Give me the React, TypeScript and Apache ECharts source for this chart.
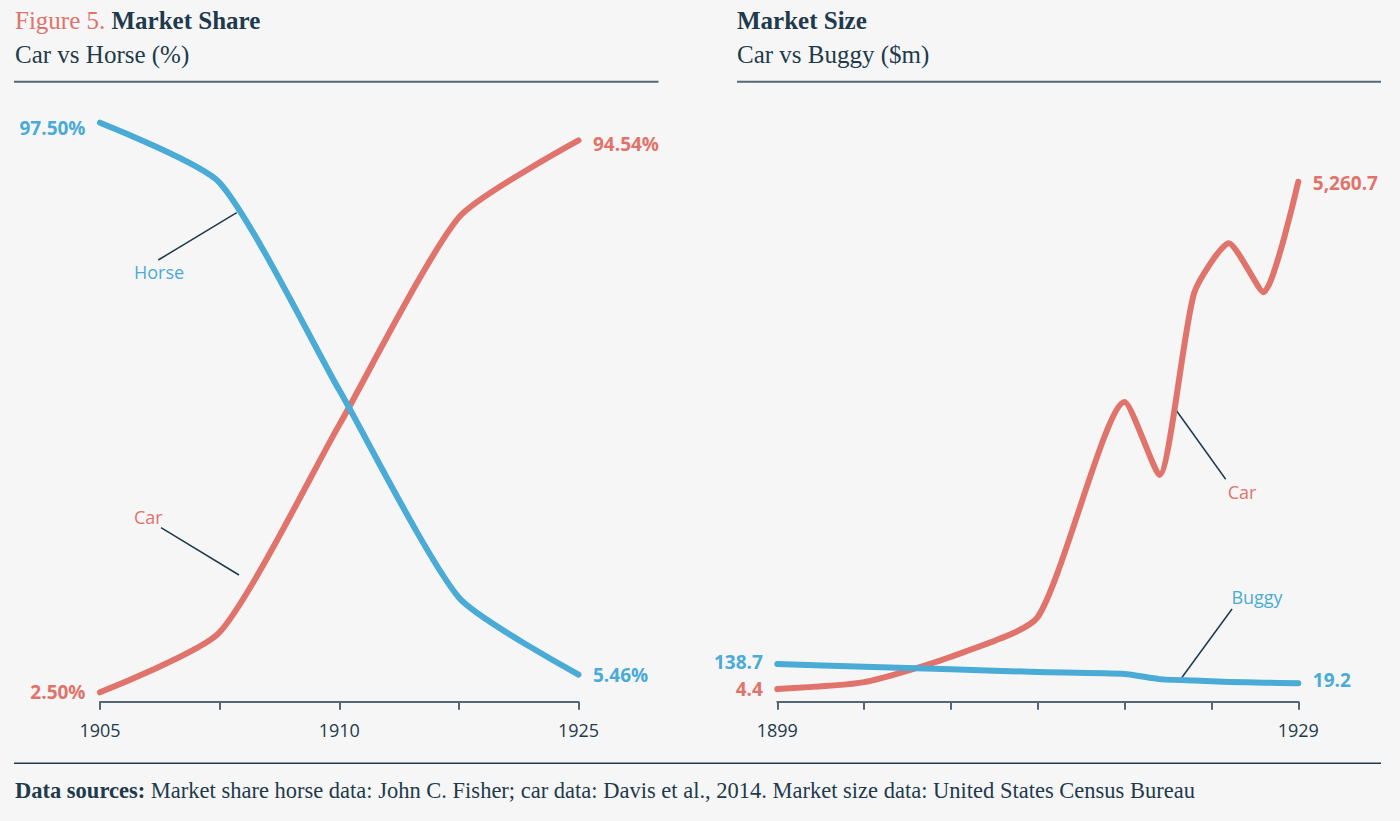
import React, { useEffect, useRef } from 'react';
import * as echarts from 'echarts';

// ---- Data ----
const shareCategories = ['1905', '1907', '1910', '1915', '1925'];
const shareTickLabels = ['1905', '', '1910', '', '1925'];
const horseShare = [97.5, 87.5, 52.9, 18.3, 5.46];
const carShare = [2.5, 12.5, 47.1, 81.7, 94.54];

const sizeYears = [1899, 1904, 1909, 1914, 1919, 1921, 1923, 1925, 1927, 1929];
const carSize = [4.4, 75, 339, 750, 2978, 2222, 4106, 4624, 4116, 5260.7];
const buggySize = [138.7, 122, 106, 89, 77, 45, 36, 28, 23, 19.2];
const sizeTickValues = [1899, 1904, 1909, 1914, 1919, 1924, 1929];
const sizeLabelValues = [1899, 1929];

// ---- Styles ----
const BLUE = '#4aabd6';
const RED = '#e0736b';
const INK = '#1e3a4c';
const RULE = '#536776';
const BG = '#f6f6f6';
const SANS = "'Open Sans', 'Noto Sans', sans-serif";
const SERIF = "'Liberation Serif', 'DejaVu Serif', serif";

const pct = (v: number) => v.toFixed(2) + '%';
const money = (v: number) =>
  v.toLocaleString('en-US', { minimumFractionDigits: 1, maximumFractionDigits: 1 });

function endItems(
  values: number[],
  xs: number[] | null,
  fmt: (v: number) => string,
  color: string,
  firstOffset: number[],
  lastOffset: number[]
) {
  return values.map((v, i) => {
    const val = xs ? [xs[i], v] : v;
    const first = i === 0;
    const last = i === values.length - 1;
    if (!first && !last) return { value: val };
    return {
      value: val,
      label: {
        show: true,
        position: first ? 'left' : 'right',
        distance: 14,
        formatter: fmt(v),
        color,
        fontFamily: SANS,
        fontWeight: 'bold',
        fontSize: 19,
        offset: first ? firstOffset : lastOffset,
      },
    };
  });
}

const axisLineStyle = { color: RULE, width: 2 };
const axisLabelStyle = { color: INK, fontFamily: SANS, fontSize: 18, margin: 19 };

function lineSeries(name: string, color: string, data: any[], xAxisIndex: number, yAxisIndex: number, z: number) {
  return {
    name,
    type: 'line',
    xAxisIndex,
    yAxisIndex,
    data,
    smooth: 0.2,
    symbol: 'circle',
    symbolSize: 1,
    showSymbol: true,
    silent: true,
    z,
    lineStyle: { color, width: 6, cap: 'round', join: 'round' },
    itemStyle: { color },
    label: { show: false },
  };
}

export default function App() {
  const ref = useRef<HTMLDivElement>(null);

  useEffect(() => {
    document.body.style.margin = '0';
    document.body.style.background = BG;
    if (!ref.current) return;
    const chart = echarts.init(ref.current, undefined, { renderer: 'svg' });

    const option: any = {
      animation: false,
      backgroundColor: BG,
      grid: [
        { left: 100, right: 821.5, top: 107.7, bottom: 119.3, containLabel: false, outerBoundsMode: 'none' },
        { left: 777.3, right: 101.7, top: 177.9, bottom: 119.3, containLabel: false, outerBoundsMode: 'none' },
      ],
      xAxis: [
        {
          type: 'category',
          gridIndex: 0,
          data: shareCategories,
          boundaryGap: false,
          axisLine: { onZero: false, lineStyle: axisLineStyle },
          axisTick: { show: true, interval: 0, length: 8, lineStyle: axisLineStyle },
          axisLabel: { ...axisLabelStyle, interval: 0, formatter: (_v: string, i: number) => shareTickLabels[i] },
          splitLine: { show: false },
        },
        {
          type: 'value',
          gridIndex: 1,
          min: 1899,
          max: 1929,
          axisLine: { onZero: false, lineStyle: axisLineStyle },
          axisTick: { show: true, length: 8, lineStyle: axisLineStyle, customValues: sizeTickValues },
          axisLabel: { ...axisLabelStyle, customValues: sizeLabelValues, formatter: (v: number) => String(v) },
          splitLine: { show: false },
        },
      ],
      yAxis: [
        { type: 'value', gridIndex: 0, min: 0.93, max: 100, show: false, splitLine: { show: false } },
        { type: 'value', gridIndex: 1, min: -127.4, max: 5300, show: false, splitLine: { show: false } },
        { type: 'value', gridIndex: 1, min: -94.7, max: 3148.6, show: false, splitLine: { show: false } },
      ],
      series: [
        lineSeries('Car', RED, endItems(carShare, null, pct, RED, [0, 0], [0, 4]), 0, 0, 2),
        lineSeries('Horse', BLUE, endItems(horseShare, null, pct, BLUE, [0, 5], [0, 0]), 0, 0, 3),
        lineSeries('Car', RED, endItems(carSize, sizeYears, money, RED, [0, 0], [0, 1]), 1, 1, 2),
        lineSeries('Buggy', BLUE, endItems(buggySize, sizeYears, money, BLUE, [0, -2], [0, -3]), 1, 2, 3),
      ],
      graphic: [
        // Titles
        {
          type: 'text', x: 15, y: 20,
          style: {
            text: '{r|Figure 5. }{b|Market Share}',
            verticalAlign: 'middle',
            rich: {
              r: { fill: RED, fontFamily: SERIF, fontSize: 25 },
              b: { fill: INK, fontFamily: SERIF, fontSize: 25, fontWeight: 'bold' },
            },
          },
        },
        { type: 'text', x: 15, y: 54.5, style: { text: 'Car vs Horse (%)', fill: INK, font: `25px ${SERIF}`, verticalAlign: 'middle' } },
        { type: 'text', x: 737, y: 20, style: { text: 'Market Size', fill: INK, font: `bold 25px ${SERIF}`, verticalAlign: 'middle' } },
        { type: 'text', x: 737, y: 54.5, style: { text: 'Car vs Buggy ($m)', fill: INK, font: `25px ${SERIF}`, verticalAlign: 'middle' } },
        // Rules
        { type: 'line', shape: { x1: 14, y1: 81.7, x2: 658.5, y2: 81.7 }, style: { stroke: RULE, lineWidth: 2 } },
        { type: 'line', shape: { x1: 737, y1: 81.7, x2: 1381, y2: 81.7 }, style: { stroke: RULE, lineWidth: 2 } },
        { type: 'line', shape: { x1: 14, y1: 763.3, x2: 1381, y2: 763.3 }, style: { stroke: INK, lineWidth: 1.5 } },
        // Annotations
        { type: 'line', shape: { x1: 158.3, y1: 260, x2: 236.7, y2: 212.7 }, style: { stroke: INK, lineWidth: 1.5 } },
        { type: 'text', x: 134, y: 271.7, style: { text: 'Horse', fill: BLUE, font: `18px ${SANS}`, verticalAlign: 'middle' } },
        { type: 'line', shape: { x1: 161, y1: 527.7, x2: 239, y2: 575 }, style: { stroke: INK, lineWidth: 1.5 } },
        { type: 'text', x: 134, y: 517, style: { text: 'Car', fill: RED, font: `18px ${SANS}`, verticalAlign: 'middle' } },
        { type: 'line', shape: { x1: 1176, y1: 410, x2: 1225.7, y2: 479.3 }, style: { stroke: INK, lineWidth: 1.5 } },
        { type: 'text', x: 1227.7, y: 491.7, style: { text: 'Car', fill: RED, font: `18px ${SANS}`, verticalAlign: 'middle' } },
        { type: 'line', shape: { x1: 1232, y1: 609, x2: 1181.7, y2: 677.7 }, style: { stroke: INK, lineWidth: 1.5 } },
        { type: 'text', x: 1257, y: 597, style: { text: 'Buggy', fill: BLUE, font: `18px ${SANS}`, align: 'center', verticalAlign: 'middle' } },
        // Footer
        {
          type: 'text', x: 15, y: 790,
          style: {
            text: '{b|Data sources: }{r|Market share horse data: John C. Fisher; car data: Davis et al., 2014. Market size data: United States Census Bureau}',
            verticalAlign: 'middle',
            rich: {
              b: { fill: INK, fontFamily: SERIF, fontSize: 22.5, fontWeight: 'bold' },
              r: { fill: INK, fontFamily: SERIF, fontSize: 22.5 },
            },
          },
        },
      ],
    };

    chart.setOption(option);
    return () => chart.dispose();
  }, []);

  return (
    <div
      ref={ref}
      style={{ position: 'absolute', left: 0, top: 0, width: 1400, height: 821, background: BG }}
    />
  );
}
